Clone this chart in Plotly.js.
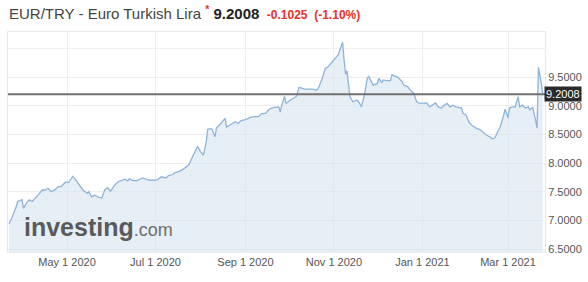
<!DOCTYPE html>
<html>
<head>
<meta charset="utf-8">
<script src="https://cdn.plot.ly/plotly-3.0.1.min.js"></script>
<style>
html,body{margin:0;padding:0;background:#fff;}
#chart{width:588px;height:282px;}
</style>
</head>
<body>
<div id="chart"></div>
<script>
const dates = [
'2020-03-22','2020-03-24','2020-03-27','2020-03-28','2020-03-31',
'2020-04-01','2020-04-03','2020-04-05','2020-04-07','2020-04-09','2020-04-11','2020-04-14','2020-04-16','2020-04-18','2020-04-20','2020-04-23','2020-04-25','2020-04-27','2020-04-30',
'2020-05-02','2020-05-04','2020-05-05','2020-05-08','2020-05-10','2020-05-12','2020-05-15','2020-05-16','2020-05-18','2020-05-20','2020-05-23','2020-05-25','2020-05-27','2020-05-29','2020-05-31',
'2020-06-03','2020-06-05','2020-06-08','2020-06-10','2020-06-12','2020-06-13','2020-06-15','2020-06-18','2020-06-22','2020-06-24','2020-06-27',
'2020-07-01','2020-07-03','2020-07-05','2020-07-08','2020-07-10','2020-07-13','2020-07-14','2020-07-17','2020-07-20','2020-07-21','2020-07-24','2020-07-26','2020-07-28','2020-07-30',
'2020-08-01','2020-08-03','2020-08-05','2020-08-06','2020-08-08','2020-08-09','2020-08-11','2020-08-12','2020-08-15','2020-08-16','2020-08-18','2020-08-19','2020-08-21','2020-08-24','2020-08-25','2020-08-27','2020-08-29',
'2020-09-01','2020-09-03','2020-09-05','2020-09-08','2020-09-10','2020-09-12','2020-09-15','2020-09-17','2020-09-19','2020-09-21','2020-09-24','2020-09-25','2020-09-26','2020-09-28','2020-09-29',
'2020-10-02','2020-10-04','2020-10-06','2020-10-08','2020-10-10','2020-10-12','2020-10-14','2020-10-17','2020-10-20','2020-10-21','2020-10-24','2020-10-26','2020-10-28','2020-10-31',
'2020-11-02','2020-11-04','2020-11-05','2020-11-07','2020-11-08','2020-11-09','2020-11-10','2020-11-11','2020-11-12','2020-11-14','2020-11-17','2020-11-18','2020-11-20','2020-11-22','2020-11-24','2020-11-25','2020-11-26','2020-11-28',
'2020-12-01','2020-12-02','2020-12-04','2020-12-05','2020-12-07','2020-12-10','2020-12-11','2020-12-13','2020-12-15','2020-12-18','2020-12-19','2020-12-22','2020-12-23','2020-12-26','2020-12-27','2020-12-28','2020-12-30',
'2021-01-02','2021-01-04','2021-01-06','2021-01-08','2021-01-10','2021-01-12','2021-01-14','2021-01-16','2021-01-18','2021-01-20','2021-01-22','2021-01-24','2021-01-26','2021-01-28','2021-01-29','2021-01-31',
'2021-02-02','2021-02-04','2021-02-06','2021-02-07','2021-02-10','2021-02-12','2021-02-14','2021-02-17','2021-02-18','2021-02-20','2021-02-22','2021-02-24','2021-02-26','2021-02-27',
'2021-03-01','2021-03-02','2021-03-04','2021-03-06','2021-03-08','2021-03-09','2021-03-11','2021-03-13','2021-03-15','2021-03-16','2021-03-18','2021-03-19','2021-03-20','2021-03-21','2021-03-22','2021-03-24','2021-03-25'
];
const rates = [
6.94,7.04,7.24,7.33,7.36,
7.21,7.30,7.36,7.33,7.38,7.44,7.53,7.53,7.56,7.50,7.54,7.59,7.59,7.67,
7.66,7.73,7.77,7.67,7.59,7.53,7.47,7.50,7.41,7.44,7.40,7.39,7.53,7.57,7.51,
7.62,7.67,7.70,7.72,7.69,7.73,7.70,7.69,7.74,7.72,7.70,
7.70,7.72,7.76,7.74,7.78,7.80,7.83,7.85,7.89,7.91,7.97,8.08,8.20,8.29,
8.20,8.14,8.37,8.59,8.60,8.59,8.46,8.61,8.69,8.72,8.78,8.63,8.66,8.70,8.72,8.69,8.74,
8.76,8.78,8.80,8.81,8.81,8.86,8.87,8.93,8.96,8.97,8.98,8.89,9.01,9.16,9.04,
9.10,9.13,9.16,9.32,9.30,9.29,9.29,9.29,9.27,9.29,9.48,9.65,9.68,9.77,
9.83,9.89,9.97,10.11,9.80,9.55,9.61,9.36,9.16,9.07,9.10,9.07,8.98,9.19,9.48,9.51,9.45,9.36,
9.39,9.48,9.40,9.45,9.44,9.44,9.54,9.52,9.50,9.42,9.36,9.33,9.29,9.22,9.13,9.07,9.04,
9.05,9.05,8.98,9.01,9.05,8.98,8.96,9.01,9.04,8.98,9.01,8.98,8.97,8.96,8.87,8.84,
8.72,8.66,8.63,8.61,8.58,8.54,8.49,8.45,8.42,8.44,8.55,8.66,8.84,8.94,
8.79,8.96,8.98,8.98,9.16,8.98,9.01,8.96,8.98,8.93,8.97,8.87,8.75,8.61,9.67,9.39,9.2008
];
const lastPrice = 9.2008;
const change = '-0.1025';
const changePct = '(-1.10%)';
const xTickVals = ['2020-05-01','2020-07-01','2020-09-01','2020-11-01','2021-01-01','2021-03-01'];
const xTickText = ['May 1 2020','Jul 1 2020','Sep 1 2020','Nov 1 2020','Jan 1 2021','Mar 1 2021'];
const yTickVals = [6.5,7,7.5,8,8.5,9,9.5];
const yTickText = ['6.5000','7.0000','7.5000','8.0000','8.5000','9.0000','9.5000'];
const extraGridY = 10;

const trace = {
  x: dates, y: rates, type: 'scatter', mode: 'lines',
  line: {color: '#8fb3da', width: 1.3},
  fill: 'tozeroy', fillcolor: 'rgba(214,228,240,0.6)',
  hoverinfo: 'skip'
};

const layout = {
  width: 588, height: 282,
  margin: {l: 8, r: 43, t: 32, b: 30},
  paper_bgcolor: '#ffffff', plot_bgcolor: '#ffffff',
  showlegend: false,
  font: {family: 'Liberation Sans, Arial, sans-serif', color: '#555'},
  title: {
    text: 'EUR/TRY - Euro Turkish Lira <span style="color:#e8312a"><sup><b>*</b></sup></span> <b><span style="font-size:15px;color:#222">' + lastPrice.toFixed(4) + '</span></b> <b><span style="font-size:12px;color:#e8312a"> ' + change + ' \u00a0' + changePct + '</span></b>',
    font: {family: 'Liberation Sans, Arial, sans-serif', size: 15, color: '#444'},
    x: 9/588, xanchor: 'left', xref: 'container',
    y: 1 - 14/282, yanchor: 'middle', yref: 'container'
  },
  xaxis: {
    type: 'date',
    range: ['2020-03-21 08:00', '2021-03-26 12:00'],
    tickvals: xTickVals, ticktext: xTickText,
    showgrid: true, gridcolor: '#eeeeee', gridwidth: 1,
    showline: true, linecolor: '#e6e9ee', mirror: true,
    ticks: '', zeroline: false,
    tickfont: {size: 11, color: '#555'}
  },
  yaxis: {
    side: 'right',
    range: [6.448, 10.287],
    tickvals: yTickVals, ticktext: yTickText,
    showgrid: true, gridcolor: '#eeeeee', gridwidth: 1,
    showline: true, linecolor: '#e6e9ee', mirror: true,
    ticks: '', zeroline: false,
    tickfont: {size: 11, color: '#555'}
  },
  shapes: [
    {
      type: 'line', xref: 'paper', yref: 'y', layer: 'below',
      x0: 0, x1: 1, y0: extraGridY, y1: extraGridY,
      line: {color: '#eeeeee', width: 1}
    },
    {
      type: 'line', xref: 'paper', yref: 'y',
      x0: 0, x1: 1, y0: lastPrice, y1: lastPrice,
      line: {color: '#707070', width: 2}
    }
  ],
  annotations: [
    {
      xref: 'paper', yref: 'y', x: 1, y: lastPrice,
      xanchor: 'left', yanchor: 'middle', xshift: -1,
      text: lastPrice.toFixed(4), showarrow: false,
      bgcolor: '#2a2a2a', borderpad: 1,
      font: {size: 11, color: '#ffffff'}
    },
    {
      xref: 'paper', yref: 'paper', x: 14/537, y: 0.04,
      xanchor: 'left', yanchor: 'bottom',
      text: '<b>investing</b><span style="font-size:18px;color:#6d6d6d">.com</span>',
      showarrow: false,
      font: {size: 25, color: '#5a5a5a', family: 'Liberation Sans, Arial, sans-serif'}
    }
  ]
};

Plotly.newPlot('chart', [trace], layout, {staticPlot: true, displayModeBar: false});
</script>
</body>
</html>
